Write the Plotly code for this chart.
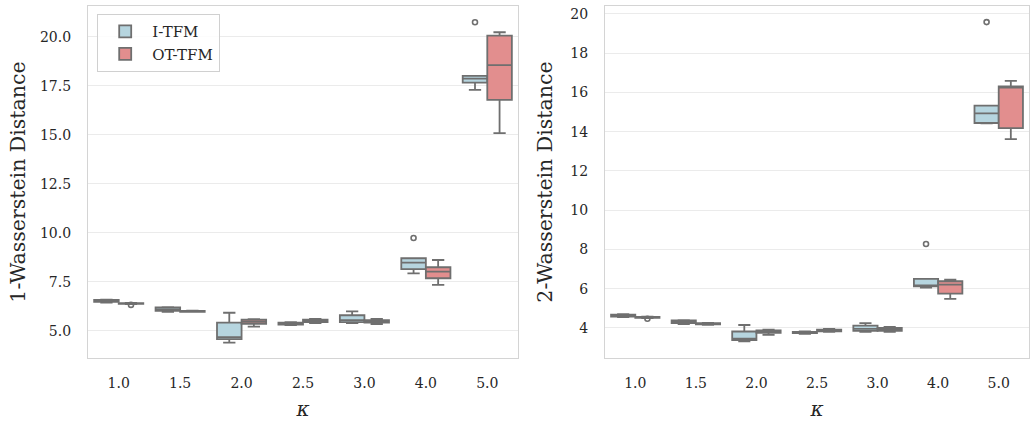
import numpy as np
import plotly.graph_objects as go

kappas = ["1.0", "1.5", "2.0", "2.5", "3.0", "4.0", "5.0"]
series = ["I-TFM", "OT-TFM"]

# ---- 1-Wasserstein distance (left panel) ----
w1_itfm_low = [6.45, 5.98, 4.40, 5.30, 5.40, 7.94, 17.30]
w1_itfm_q1 = [6.48, 6.02, 4.58, 5.33, 5.45, 8.15, 17.67]
w1_itfm_med = [6.53, 6.10, 4.68, 5.37, 5.55, 8.49, 17.87]
w1_itfm_q3 = [6.58, 6.20, 5.42, 5.42, 5.80, 8.71, 18.01]
w1_itfm_up = [6.60, 6.22, 5.93, 5.45, 6.00, 8.71, 18.01]
w1_itfm_out = [[], [], [], [], [], [9.74], [20.75]]

w1_ot_low = [6.37, 5.97, 5.22, 5.40, 5.35, 7.35, 15.09]
w1_ot_q1 = [6.38, 5.98, 5.36, 5.45, 5.42, 7.69, 16.79]
w1_ot_med = [6.40, 6.00, 5.47, 5.52, 5.48, 8.03, 18.56]
w1_ot_q3 = [6.42, 6.02, 5.58, 5.58, 5.55, 8.25, 20.07]
w1_ot_up = [6.43, 6.04, 5.60, 5.62, 5.62, 8.62, 20.24]
w1_ot_out = [[6.33], [], [], [], [], [], []]

# ---- 2-Wasserstein distance (right panel) ----
w2_itfm_low = [4.55, 4.20, 3.32, 3.70, 3.80, 6.05, 14.42]
w2_itfm_q1 = [4.58, 4.25, 3.38, 3.74, 3.85, 6.12, 14.44]
w2_itfm_med = [4.63, 4.32, 3.45, 3.77, 3.95, 6.14, 14.93]
w2_itfm_q3 = [4.68, 4.38, 3.82, 3.80, 4.12, 6.50, 15.33]
w2_itfm_up = [4.70, 4.40, 4.15, 3.82, 4.25, 6.50, 15.33]
w2_itfm_out = [[], [], [], [], [], [8.28], [19.58]]

w2_ot_low = [4.50, 4.16, 3.65, 3.80, 3.80, 5.48, 13.62]
w2_ot_q1 = [4.52, 4.18, 3.75, 3.83, 3.85, 5.75, 14.18]
w2_ot_med = [4.54, 4.22, 3.83, 3.88, 3.92, 6.21, 16.25]
w2_ot_q3 = [4.56, 4.24, 3.88, 3.92, 4.00, 6.38, 16.30]
w2_ot_up = [4.58, 4.26, 3.92, 3.95, 4.05, 6.46, 16.59]
w2_ot_out = [[4.47], [], [], [], [], [], []]

y1_ticks = [5.0, 7.5, 10.0, 12.5, 15.0, 17.5, 20.0]
y2_ticks = [4, 6, 8, 10, 12, 14, 16, 18, 20]

FONT = "DejaVu Serif"
TXT = "#262626"
EDGE = "#6f6f6f"
FILL_I = "rgb(182,213,223)"
FILL_O = "rgb(226,142,142)"
GRID = "#ebebeb"
FRAME = "#d4d4d4"

fig = go.Figure()
pos = np.arange(len(kappas))
half = 0.2


def add_boxes(xa, ya, low, q1, med, q3, up, outs, offset, fill, name, showlegend):
    fig.add_trace(go.Box(
        x=pos + offset, lowerfence=low, q1=q1, median=med, q3=q3, upperfence=up,
        width=2 * half, whiskerwidth=0.5, fillcolor=fill,
        line=dict(color=EDGE, width=1.8), name=name, legendgroup=name,
        showlegend=showlegend, xaxis=xa, yaxis=ya, hoverinfo="skip"))
    ox, oy = [], []
    for i, vals in enumerate(outs):
        for v in vals:
            ox.append(pos[i] + offset)
            oy.append(v)
    fig.add_trace(go.Scatter(
        x=ox, y=oy, mode="markers", showlegend=False, xaxis=xa, yaxis=ya,
        marker=dict(symbol="circle-open", size=5, color=EDGE, line=dict(width=1.6, color=EDGE)),
        hoverinfo="skip"))


add_boxes("x", "y", w1_itfm_low, w1_itfm_q1, w1_itfm_med, w1_itfm_q3, w1_itfm_up, w1_itfm_out, -half, FILL_I, series[0], True)
add_boxes("x", "y", w1_ot_low, w1_ot_q1, w1_ot_med, w1_ot_q3, w1_ot_up, w1_ot_out, half, FILL_O, series[1], True)
add_boxes("x2", "y2", w2_itfm_low, w2_itfm_q1, w2_itfm_med, w2_itfm_q3, w2_itfm_up, w2_itfm_out, -half, FILL_I, series[0], False)
add_boxes("x2", "y2", w2_ot_low, w2_ot_q1, w2_ot_med, w2_ot_q3, w2_ot_up, w2_ot_out, half, FILL_O, series[1], False)

W, H = 1031, 421
ydom = [(H - 358) / H, (H - 6) / H]

xcommon = dict(
    tickmode="array", tickvals=list(pos), ticktext=kappas, range=[-0.5, 6.5],
    showgrid=False, zeroline=False, showline=True, mirror=True, linecolor=FRAME,
    linewidth=1.2, ticks="", ticklabelstandoff=12,
    tickfont=dict(family=FONT, size=14, color=TXT),
    title=dict(text="<i>κ</i>", font=dict(family=FONT, size=20, color=TXT), standoff=14),
)
ycommon = dict(
    showgrid=True, gridcolor=GRID, gridwidth=1, zeroline=False, showline=True, mirror=True,
    linecolor=FRAME, linewidth=1.2, ticks="", ticklabelstandoff=13,
    tickfont=dict(family=FONT, size=14, color=TXT),
)

fig.update_layout(
    width=W, height=H, margin=dict(l=0, r=0, t=0, b=0),
    paper_bgcolor="white", plot_bgcolor="white",
    showlegend=True,
    xaxis=dict(domain=[88 / W, 518 / W], anchor="y", **xcommon),
    xaxis2=dict(domain=[605 / W, 1029 / W], anchor="y2", **xcommon),
    yaxis=dict(domain=ydom, anchor="x", range=[3.62, 21.58], tickvals=y1_ticks,
               tickformat=".1f",
               title=dict(text="1-Wasserstein Distance", font=dict(family=FONT, size=20.5, color=TXT), standoff=8),
               **ycommon),
    yaxis2=dict(domain=ydom, anchor="x2", range=[2.47, 20.4], tickvals=y2_ticks,
                tickformat="d",
                title=dict(text="2-Wasserstein Distance", font=dict(family=FONT, size=20.5, color=TXT), standoff=12),
                **ycommon),
    legend=dict(x=97 / W, y=(H - 14) / H, xanchor="left", yanchor="top",
                bgcolor="rgba(255,255,255,0.85)", bordercolor="#d0d0d0", borderwidth=1.2,
                font=dict(family=FONT, size=15, color=TXT), tracegroupgap=0, itemwidth=44),
)

fig.write_html("out.html", config={"displayModeBar": False})

# remove the browser's default page margin so the figure sits at (0, 0)
with open("out.html", encoding="utf-8") as f:
    html = f.read()
html = html.replace("<head>", "<head><style>html,body{margin:0;padding:0;overflow:hidden;}</style>", 1)
with open("out.html", "w", encoding="utf-8") as f:
    f.write(html)
